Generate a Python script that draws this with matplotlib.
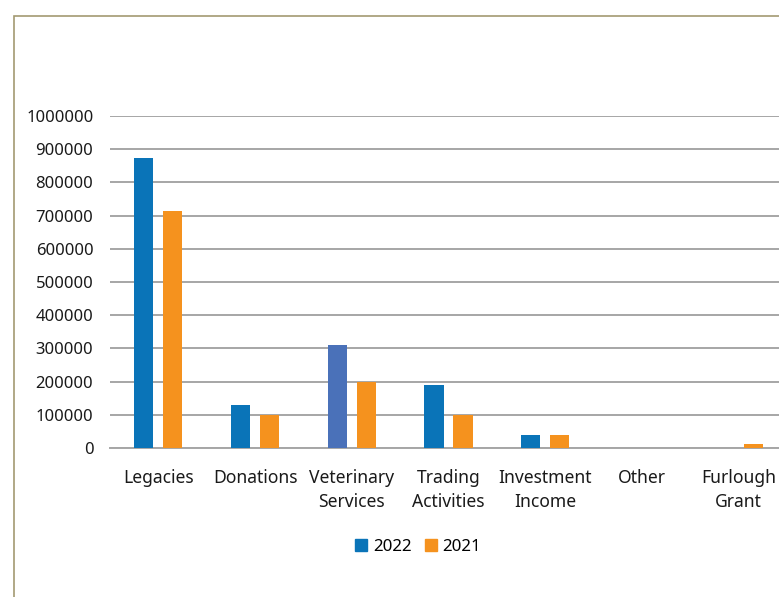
import matplotlib
matplotlib.use("Agg")
import matplotlib.pyplot as plt
from matplotlib.patches import Rectangle
from matplotlib.lines import Line2D
import numpy as np

categories = ["Legacies", "Donations", "Veterinary\nServices", "Trading\nActivities",
              "Investment\nIncome", "Other", "Furlough\nGrant"]
values_2022 = [875000, 130000, 311000, 190000, 40000, 0, 0]
values_2021 = [714000, 100000, 200000, 100000, 40000, 0, 13000]
yticks = [0, 100000, 200000, 300000, 400000, 500000, 600000, 700000, 800000, 900000, 1000000]

blue = "#0a74b8"
blue_alt = "#4a71b9"
orange = "#f5921e"
colors_2022 = [blue, blue, blue_alt, blue, blue, blue, blue]

plt.rcParams['font.family'] = ['Noto Sans', 'DejaVu Sans']

W, H = 779, 597
fig = plt.figure(figsize=(W / 100, H / 100), dpi=100)

# frame border
fig.patches.append(Rectangle((13.5 / W, -0.1), 2.0, 1 - 15.5 / H + 0.1,
                             transform=fig.transFigure, fill=False,
                             edgecolor="#a39a72", linewidth=1.2))

ax = fig.add_axes([110 / W, 1 - 448 / H, 677 / W, (448 - 116) / H])
x = np.arange(len(categories))
bw = 0.197
ax.bar(x - 0.15, values_2022, width=bw, color=colors_2022, zorder=3, label="2022")
ax.bar(x + 0.15, values_2021, width=bw, color=orange, zorder=3, label="2021")

ax.set_xlim(-0.5, len(categories) - 0.5)
ax.set_ylim(0, 1000000)
ax.set_yticks(yticks)
ax.set_yticklabels([str(v) for v in yticks], fontsize=12)
ax.set_xticks(x)
ax.set_xticklabels(categories, linespacing=1.45, fontsize=12.6)
ax.grid(axis="y", color="#a6a6a6", linewidth=1.4, zorder=0)
for s in ["top", "right", "left"]:
    ax.spines[s].set_visible(False)
ax.spines["bottom"].set_color("#a6a6a6")
ax.spines["bottom"].set_linewidth(1.4)
ax.tick_params(axis="both", length=0, colors="#1a1a1a")
ax.tick_params(axis="y", pad=12)
ax.tick_params(axis="x", pad=15)

handles = [Line2D([], [], marker="s", linestyle="none", markersize=9,
                  markerfacecolor=blue, markeredgecolor=blue),
           Line2D([], [], marker="s", linestyle="none", markersize=9,
                  markerfacecolor=orange, markeredgecolor=orange)]
fig.legend(handles, ["2022", "2021"], loc="center", bbox_to_anchor=(417 / W, 1 - 547 / H),
           ncol=2, frameon=False, fontsize=12.2, handletextpad=0.2, columnspacing=0.6,
           handlelength=1.0)

fig.savefig("out.png", dpi=100, facecolor="white")
